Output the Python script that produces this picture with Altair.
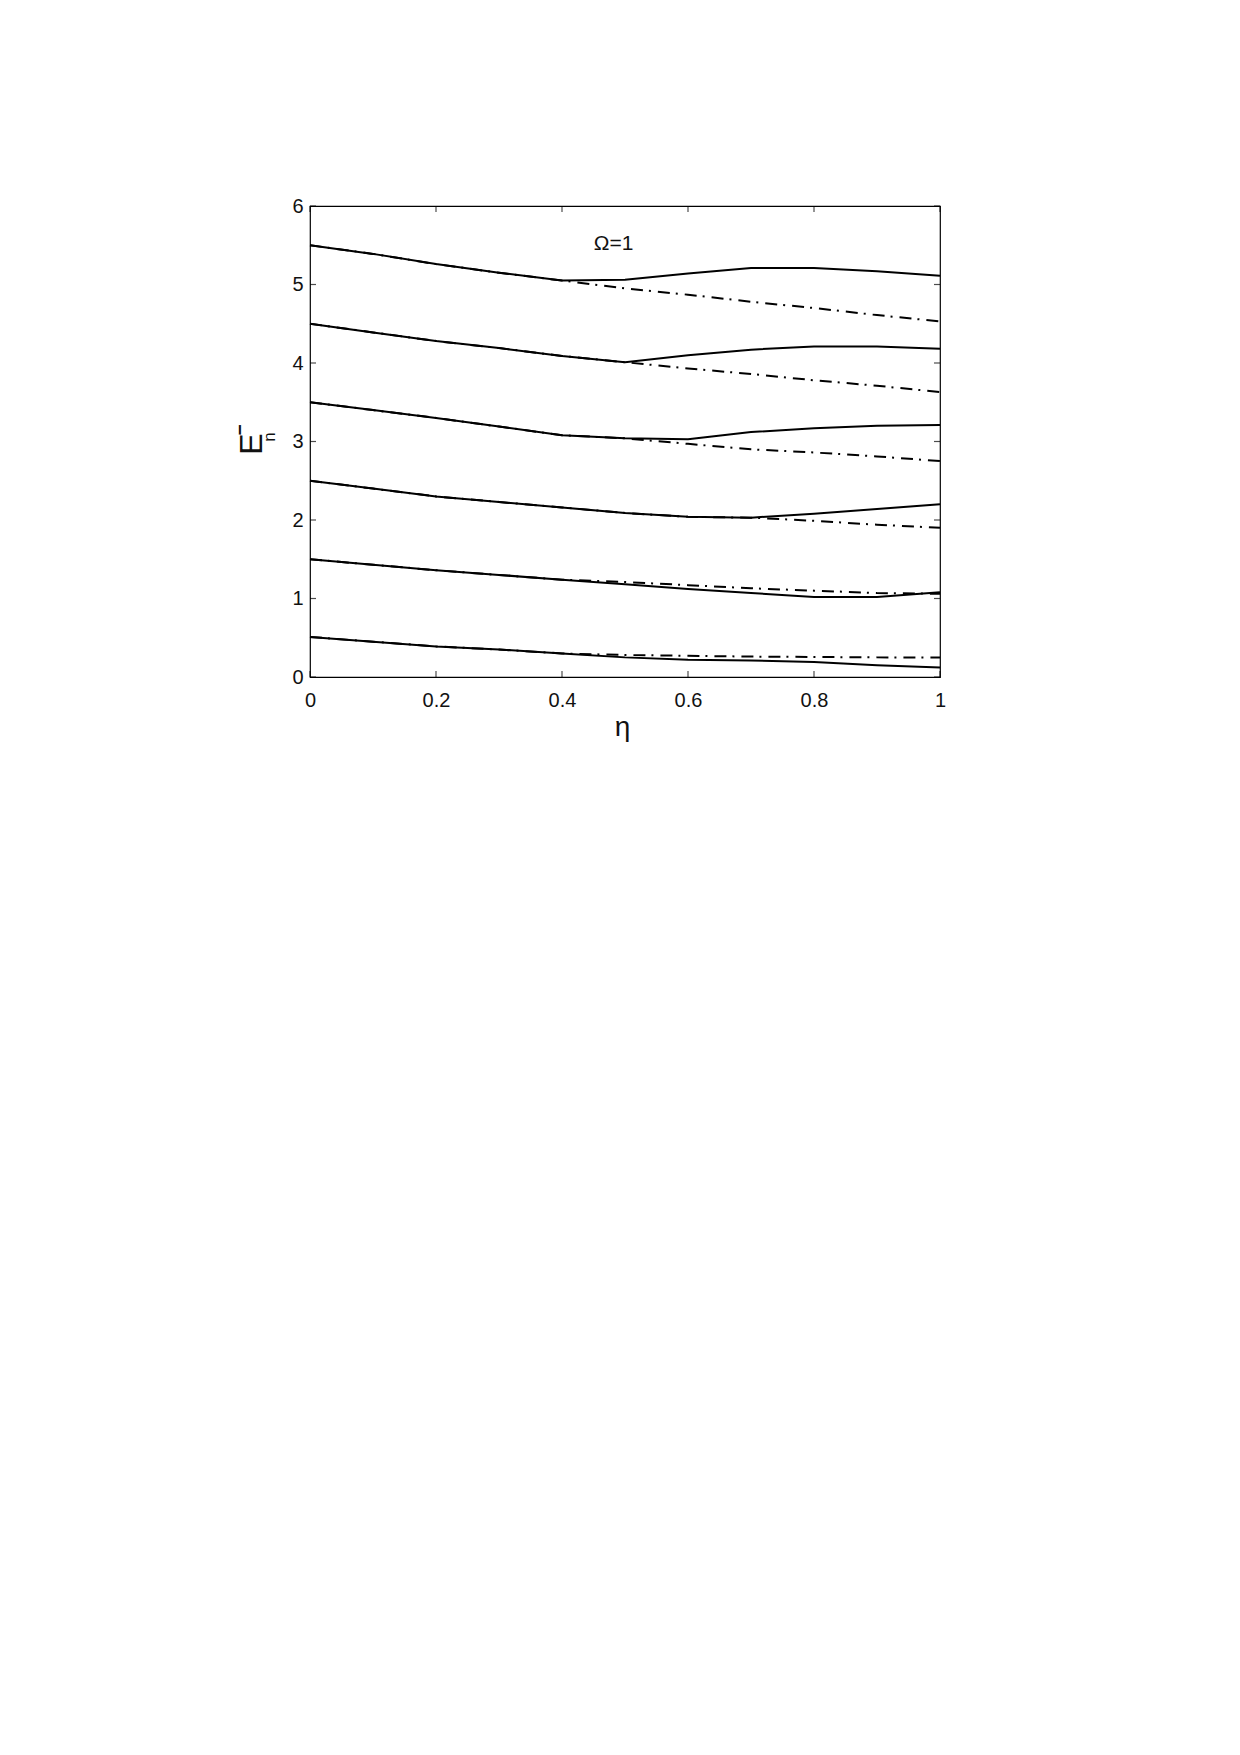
import altair as alt
import pandas as pd

# eta grid
eta = [0.0, 0.1, 0.2, 0.3, 0.4, 0.5, 0.6, 0.7, 0.8, 0.9, 1.0]

# solid curves (exact)
exact_n0 = [0.51, 0.45, 0.39, 0.35, 0.30, 0.25, 0.22, 0.21, 0.19, 0.15, 0.12]
exact_n1 = [1.50, 1.43, 1.36, 1.30, 1.24, 1.18, 1.12, 1.07, 1.02, 1.02, 1.08]
exact_n2 = [2.50, 2.40, 2.30, 2.23, 2.16, 2.09, 2.04, 2.03, 2.08, 2.14, 2.20]
exact_n3 = [3.50, 3.40, 3.30, 3.19, 3.08, 3.04, 3.03, 3.12, 3.17, 3.20, 3.21]
exact_n4 = [4.50, 4.39, 4.28, 4.19, 4.09, 4.01, 4.10, 4.17, 4.21, 4.21, 4.18]
exact_n5 = [5.50, 5.39, 5.26, 5.15, 5.05, 5.06, 5.14, 5.21, 5.21, 5.17, 5.11]

# dash-dot curves (approximation)
approx_n0 = [0.51, 0.45, 0.39, 0.35, 0.30, 0.28, 0.27, 0.26, 0.255, 0.25, 0.25]
approx_n1 = [1.50, 1.43, 1.36, 1.30, 1.24, 1.21, 1.17, 1.13, 1.10, 1.07, 1.06]
approx_n2 = [2.50, 2.40, 2.30, 2.23, 2.16, 2.09, 2.04, 2.03, 1.99, 1.94, 1.90]
approx_n3 = [3.50, 3.40, 3.30, 3.19, 3.08, 3.04, 2.97, 2.90, 2.86, 2.81, 2.75]
approx_n4 = [4.50, 4.39, 4.28, 4.19, 4.09, 4.01, 3.93, 3.86, 3.78, 3.71, 3.63]
approx_n5 = [5.50, 5.39, 5.26, 5.15, 5.05, 4.95, 4.87, 4.78, 4.70, 4.61, 4.53]

x_ticks = [0, 0.2, 0.4, 0.6, 0.8, 1]
y_ticks = [0, 1, 2, 3, 4, 5, 6]

omega_label = ["Ω=1"]
omega_eta = [0.482]
omega_E = [5.51]

exact = [exact_n0, exact_n1, exact_n2, exact_n3, exact_n4, exact_n5]
approx = [approx_n0, approx_n1, approx_n2, approx_n3, approx_n4, approx_n5]

rows_exact = []
rows_approx = []
for n in range(6):
    for xv, ev in zip(eta, exact[n]):
        rows_exact.append({"n": n, "eta": xv, "E": ev})
    for xv, av in zip(eta, approx[n]):
        rows_approx.append({"n": n, "eta": xv, "E": av})
df_exact = pd.DataFrame(rows_exact)
df_approx = pd.DataFrame(rows_approx)
df_xt = pd.DataFrame({"eta": x_ticks})
df_yt = pd.DataFrame({"E": y_ticks})
df_om = pd.DataFrame({"eta": omega_eta, "E": omega_E, "t": omega_label})

W, H = 630, 471
FONT = "Liberation Sans"

X = alt.X(
    "eta:Q",
    scale=alt.Scale(domain=[0, 1], nice=False, zero=False),
    axis=alt.Axis(
        values=x_ticks, format="~g", ticks=False, domain=False, grid=False,
        labelFont=FONT, labelFontSize=20, labelColor="#111", labelPadding=13,
        labelFlush=False,
        title="η", titleFont=FONT, titleFontSize=28, titleFontWeight="normal",
        titleColor="#111", titleX=312, titleY=58, titleBaseline="alphabetic",
        titleAlign="center",
    ),
)
Y = alt.Y(
    "E:Q",
    scale=alt.Scale(domain=[0, 6], nice=False, zero=False),
    axis=alt.Axis(
        values=y_ticks, ticks=False, domain=False, grid=False,
        labelFont=FONT, labelFontSize=20, labelColor="#111", labelPadding=7,
        labelFlush=False, title=None,
    ),
)

dash = alt.Chart(df_approx).mark_line(
    color="black", strokeWidth=2, strokeDash=[12, 6, 2, 7]
).encode(x=X, y=Y, detail="n:N")

solid = alt.Chart(df_exact).mark_line(color="black", strokeWidth=2).encode(
    x=X, y=Y, detail="n:N"
)

xt_bottom = alt.Chart(df_xt).mark_tick(
    orient="vertical", color="black", size=6, thickness=1.2
).encode(x=X, y=alt.value(H - 3))
xt_top = alt.Chart(df_xt).mark_tick(
    orient="vertical", color="black", size=6, thickness=1.2
).encode(x=X, y=alt.value(3))
yt_left = alt.Chart(df_yt).mark_tick(
    orient="horizontal", color="black", size=6, thickness=1.2
).encode(y=Y, x=alt.value(3))
yt_right = alt.Chart(df_yt).mark_tick(
    orient="horizontal", color="black", size=6, thickness=1.2
).encode(y=Y, x=alt.value(W - 3))

omega = alt.Chart(df_om).mark_text(
    font=FONT, fontSize=21, color="#111", align="center", baseline="middle"
).encode(x=X, y=Y, text="t:N")

ylab_E = alt.Chart(pd.DataFrame({"t": ["E"]})).mark_text(
    font=FONT, fontSize=32, color="#111", angle=270, align="center", baseline="middle"
).encode(x=alt.value(-58.5), y=alt.value(238), text="t:N")
ylab_sup = alt.Chart(pd.DataFrame({"t": ["−"]})).mark_text(
    font=FONT, fontSize=19, fontWeight="bold", color="#111", angle=270,
    align="center", baseline="middle"
).encode(x=alt.value(-70), y=alt.value(224), text="t:N")
ylab_sub = alt.Chart(pd.DataFrame({"t": ["n"]})).mark_text(
    font=FONT, fontSize=17, color="#111", angle=270, align="center", baseline="middle"
).encode(x=alt.value(-40), y=alt.value(231), text="t:N")

chart = alt.layer(
    dash, solid, xt_bottom, xt_top, yt_left, yt_right, omega, ylab_E, ylab_sup, ylab_sub
).properties(
    width=W, height=H,
    autosize=alt.AutoSizeParams(type="none"),
    padding={"left": 302, "top": 198, "right": 60, "bottom": 120},
    background="white",
).configure_view(stroke="black", strokeWidth=1.2)

chart.save("out.html", embed_options={"renderer": "svg", "actions": False})
